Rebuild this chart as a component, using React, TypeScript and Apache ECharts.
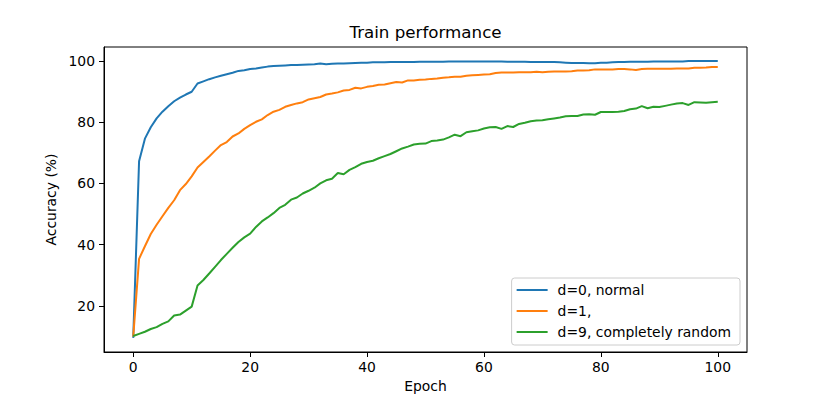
import React, { useEffect, useRef } from "react";
import * as echarts from "echarts";

const epochs: number[] = Array.from({ length: 101 }, (_, i) => i);

const normalAcc: number[] = [
  9.6, 67.2, 74.6, 78.3, 81.2, 83.4, 85.2, 86.8, 88.0, 89.0,
  89.9, 92.6, 93.3, 94.0, 94.6, 95.1, 95.6, 96.1, 96.7, 96.9,
  97.3, 97.5, 97.8, 98.1, 98.3, 98.4, 98.5, 98.6, 98.6, 98.7,
  98.8, 98.9, 99.1, 98.9, 99.0, 99.1, 99.1, 99.2, 99.3, 99.4,
  99.4, 99.5, 99.5, 99.5, 99.6, 99.6, 99.6, 99.6, 99.6, 99.7,
  99.7, 99.7, 99.7, 99.7, 99.8, 99.8, 99.8, 99.8, 99.8, 99.8,
  99.8, 99.8, 99.8, 99.8, 99.7, 99.7, 99.7, 99.7, 99.6, 99.6,
  99.6, 99.6, 99.6, 99.5, 99.4, 99.3, 99.3, 99.3, 99.2, 99.2,
  99.35, 99.4, 99.5, 99.6, 99.6, 99.7, 99.7, 99.7, 99.7, 99.8,
  99.8, 99.8, 99.8, 99.8, 99.8, 99.9, 99.9, 99.9, 99.9, 99.9,
  99.9,
];

const d1Acc: number[] = [
  10.0, 35.4, 39.5, 43.5, 46.5, 49.3, 52.0, 54.5, 57.8, 59.8,
  62.3, 65.2, 67.0, 68.8, 70.7, 72.5, 73.5, 75.3, 76.3, 77.8,
  79.0, 80.1, 80.9, 82.3, 83.4, 84.0, 85.0, 85.6, 86.1, 86.5,
  87.4, 87.8, 88.2, 89.0, 89.3, 89.7, 90.3, 90.5, 91.2, 91.0,
  91.5, 91.8, 92.2, 92.3, 92.7, 93.1, 92.9, 93.6, 93.6, 93.8,
  93.9, 94.1, 94.2, 94.5, 94.6, 94.8, 94.8, 95.1, 95.3, 95.4,
  95.5, 95.6, 96.0, 96.2, 96.2, 96.2, 96.3, 96.3, 96.3, 96.4,
  96.3, 96.4, 96.5, 96.5, 96.5, 96.6, 96.8, 96.8, 96.9, 97.2,
  97.2, 97.2, 97.2, 97.3, 97.3, 97.2, 97.0, 97.3, 97.4, 97.4,
  97.4, 97.4, 97.4, 97.5, 97.5, 97.5, 97.7, 97.7, 97.8, 98.0,
  98.0,
];

const d9Acc: number[] = [
  10.2, 10.9, 11.6, 12.5, 13.1, 14.2, 15.0, 16.9, 17.2, 18.5,
  19.8, 26.7, 28.5, 30.6, 32.8, 35.0, 37.0, 39.0, 40.9, 42.4,
  43.6, 45.8, 47.6, 48.9, 50.3, 52.0, 53.0, 54.7, 55.4, 56.7,
  57.6, 58.6, 60.0, 61.0, 61.5, 63.4, 63.0, 64.4, 65.3, 66.4,
  67.0, 67.4, 68.2, 68.9, 69.6, 70.5, 71.4, 72.0, 72.7, 72.9,
  73.0, 73.8, 74.0, 74.3, 75.0, 75.9, 75.4, 76.7, 77.0, 77.3,
  77.9, 78.3, 78.4, 77.8, 78.7, 78.4, 79.4, 79.8, 80.3, 80.5,
  80.6, 80.9, 81.2, 81.5, 81.9, 82.0, 82.0, 82.5, 82.6, 82.4,
  83.3, 83.3, 83.3, 83.4, 83.6, 84.2, 84.4, 85.2, 84.5, 85.0,
  84.9, 85.3, 85.7, 86.1, 86.2, 85.6, 86.5, 86.4, 86.3, 86.5,
  86.6,
];

const seriesNames: string[] = ["d=0, normal", "d=1,", "d=9, completely random"];
const seriesColors: string[] = ["#1f77b4", "#ff7f0e", "#2ca02c"];
const xTicks: number[] = [0, 20, 40, 60, 80, 100];
const yTicks: number[] = [20, 40, 60, 80, 100];

const FONT = "DejaVu Sans";
const FS = 13.9;

export default function App() {
  const ref = useRef<HTMLDivElement>(null);

  useEffect(() => {
    if (!ref.current) return;
    const chart = echarts.init(ref.current, null, { renderer: "svg" });
    const allData = [normalAcc, d1Acc, d9Acc];
    chart.setOption({
      animation: false,
      backgroundColor: "#ffffff",
      title: {
        text: "Train performance",
        left: 425.5,
        top: 23,
        padding: 0,
        textAlign: "center",
        textStyle: { fontFamily: FONT, fontSize: 16.7, fontWeight: "normal", color: "#000" },
      },
      grid: {
        left: 104,
        right: 83,
        top: 47,
        bottom: 43,
        outerBoundsMode: "none",
        containLabel: false,
        show: true,
        borderColor: "#000",
        borderWidth: 1,
        backgroundColor: "transparent",
      },
      legend: {
        orient: "vertical",
        right: 90,
        bottom: 50,
        padding: [5, 9, 6, 5],
        icon: "rect",
        itemWidth: 31,
        itemHeight: 2,
        itemGap: 7,
        backgroundColor: "rgba(255,255,255,0.8)",
        borderColor: "#cccccc",
        borderWidth: 1,
        borderRadius: 3,
        data: seriesNames,
        textStyle: {
          fontFamily: FONT,
          fontSize: FS,
          lineHeight: 14,
          color: "#000",
          padding: [0, 0, 0, 5],
        },
      },
      xAxis: {
        type: "value",
        min: -5,
        max: 105,
        name: "Epoch",
        nameLocation: "middle",
        nameGap: 27,
        nameTextStyle: { fontFamily: FONT, fontSize: FS, color: "#000" },
        axisLine: { show: true, onZero: false, lineStyle: { color: "#000", width: 1 } },
        axisTick: { show: true, length: 5, lineStyle: { color: "#000" }, customValues: xTicks },
        axisLabel: { fontFamily: FONT, fontSize: FS, color: "#000", margin: 8, customValues: xTicks },
        splitLine: { show: false },
      },
      yAxis: {
        type: "value",
        min: 5,
        max: 104.5,
        name: "Accuracy (%)",
        nameLocation: "middle",
        nameGap: 43,
        nameTextStyle: { fontFamily: FONT, fontSize: FS, color: "#000" },
        axisLine: { show: true, onZero: false, lineStyle: { color: "#000", width: 1 } },
        axisTick: { show: true, length: 5, lineStyle: { color: "#000" }, customValues: yTicks },
        axisLabel: { fontFamily: FONT, fontSize: FS, color: "#000", margin: 9, customValues: yTicks },
        splitLine: { show: false },
      },
      series: seriesNames.map((name, i) => ({
        name,
        type: "line",
        symbol: "none",
        showSymbol: false,
        data: epochs.map((e, j) => [e, allData[i][j]]),
        lineStyle: { color: seriesColors[i], width: 2 },
        itemStyle: { color: seriesColors[i] },
      })),
    });
    return () => chart.dispose();
  }, []);

  return (
    <div
      ref={ref}
      style={{ position: "absolute", left: 0, top: 0, width: 830, height: 395 }}
    />
  );
}
